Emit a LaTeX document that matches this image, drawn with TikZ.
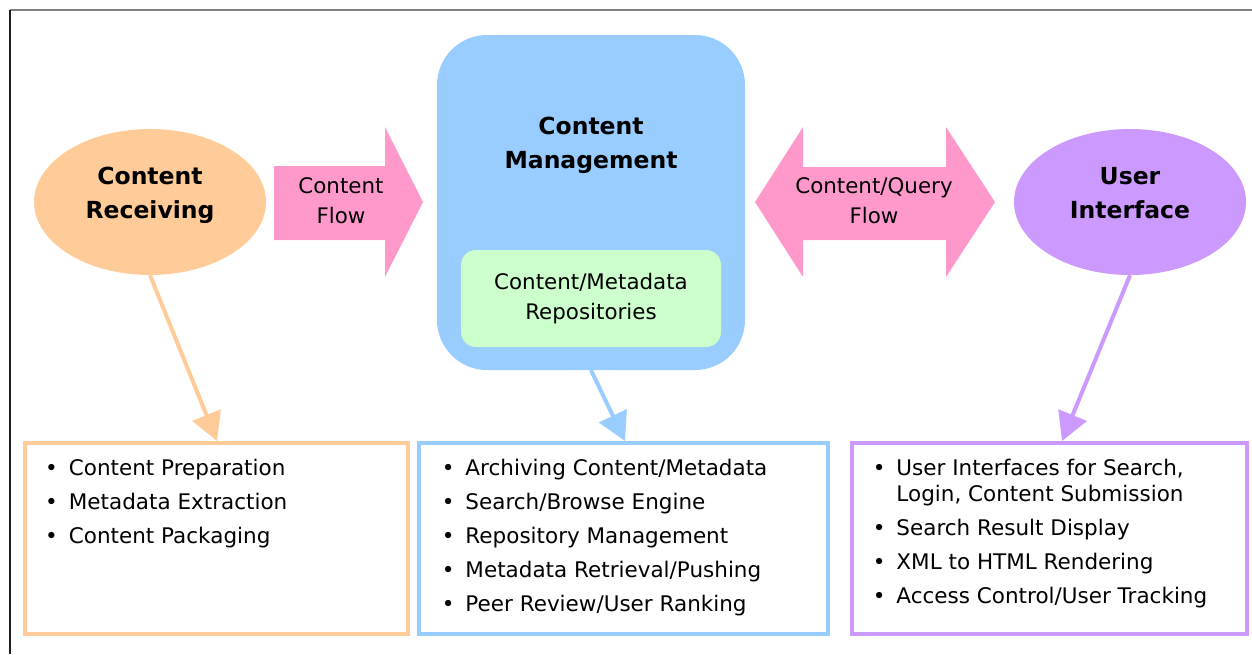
\documentclass[tikz,border=0pt]{standalone}
\usepackage{fontspec}
\setmainfont{DejaVu Sans}
\usetikzlibrary{shapes.geometric,arrows.meta}
\definecolor{recvorange}{HTML}{FFCC99}
\definecolor{flowpink}{HTML}{FF99CC}
\definecolor{mgmtblue}{HTML}{99CCFF}
\definecolor{repogreen}{HTML}{CCFFCC}
\definecolor{uipurple}{HTML}{CC99FF}
\begin{document}
\begin{tikzpicture}[x=1pt,y=-1pt,
    title/.style={font=\bfseries\fontsize{23.5}{34}\selectfont,align=center,inner sep=0pt},
    plain/.style={font=\fontsize{21.4}{30}\selectfont,align=center,inner sep=0pt},
    blob/.style={ellipse,fill=#1,minimum width=232pt,minimum height=146pt,inner sep=0pt},
    listbox/.style={draw=#1,fill=white,line width=4pt,minimum height=191pt,inner sep=0pt},
    bullets/.style={font=\fontsize{21.5}{26}\selectfont,inner sep=0pt,anchor=base west},
    link/.style={draw=#1,line width=4pt,-{Triangle[length=28pt,width=30pt]}}]
    \useasboundingbox (0,0) rectangle (1252,654);
    \draw[line width=2pt,color={rgb,255:red,128;green,128;blue,128}] (10,10) -- (1252,10);
    \draw[line width=1.5pt,color={rgb,255:red,30;green,30;blue,30}] (10,10) -- (10,654);

    \node[blob=recvorange] (recv) at (150,202) {};
    \node[title] (recvtext) at (150,195) {Content\\Receiving};
    \node[blob=uipurple] (ui) at (1130,202) {};
    \node[title] (uitext) at (1130,193) {User\\Interface};

    \node[fill=mgmtblue,rounded corners=50pt,minimum width=308pt,minimum height=335pt] (cm) at (591,202.5) {};
    \node[title] (cmtext) at (591,145) {Content\\Management};
    \node[plain,fill=repogreen,rounded corners=15pt,minimum width=260pt,minimum height=97pt] (repo) at (591,298.5) {Content/Metadata\\Repositories};

    \fill[flowpink] (274,166) -- (385,166) -- (385,127) -- (423,202) -- (385,277) -- (385,240) -- (274,240) -- cycle;
    \node[plain] (flow) at (341,201) {Content\\Flow};
    \fill[flowpink] (755,202) -- (803,127) -- (803,167) -- (946,167) -- (946,127) -- (995,202)
      -- (946,277) -- (946,240) -- (803,240) -- (803,277) -- cycle;
    \node[plain] (query) at (874,201) {Content/Query\\Flow};

    \node[listbox=recvorange,minimum width=383.5pt] (recvlist) at (216.25,538.5) {};
    \node[listbox=mgmtblue,minimum width=409pt] (cmlist) at (623.5,538.5) {};
    \node[listbox=uipurple,minimum width=395pt] (uilist) at (1049.5,538.5) {};

    \coordinate (recvin) at (217,441);
    \coordinate (cmin) at (625,441);
    \coordinate (uiin) at (1062,441);
    \draw[link=recvorange] (recv.south) -- (recvin);
    \draw[link=mgmtblue] (cm.south) -- (cmin);
    \draw[link=uipurple] (ui.south) -- (uiin);

    \node[bullets] (recvitems) at (45,475) {\begin{tabular}[t]{@{}l@{\hspace{11pt}}l@{}}
      \textbullet & Content Preparation\\[8pt]
      \textbullet & Metadata Extraction\\[8pt]
      \textbullet & Content Packaging
    \end{tabular}};
    \node[bullets] (cmitems) at (441.6,475) {\begin{tabular}[t]{@{}l@{\hspace{11pt}}l@{}}
      \textbullet & Archiving Content/Metadata\\[8pt]
      \textbullet & Search/Browse Engine\\[8pt]
      \textbullet & Repository Management\\[8pt]
      \textbullet & Metadata Retrieval/Pushing\\[8pt]
      \textbullet & Peer Review/User Ranking
    \end{tabular}};
    \node[bullets] (uiitems) at (872.6,475) {\begin{tabular}[t]{@{}l@{\hspace{11pt}}l@{}}
      \textbullet & User Interfaces for Search,\\
                  & Login, Content Submission\\[8pt]
      \textbullet & Search Result Display\\[8pt]
      \textbullet & XML to HTML Rendering\\[8pt]
      \textbullet & Access Control/User Tracking
    \end{tabular}};
\end{tikzpicture}
\end{document}
